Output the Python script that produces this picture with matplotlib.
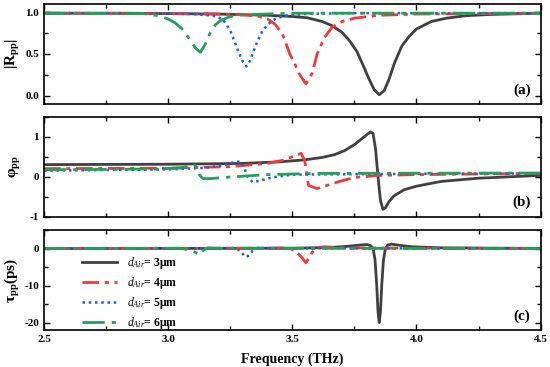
import matplotlib
matplotlib.use("Agg")
import matplotlib.pyplot as plt
from matplotlib.ticker import MultipleLocator

plt.rcParams["font.family"] = ["Liberation Serif", "DejaVu Serif"]
plt.rcParams["mathtext.fontset"] = "custom"
plt.rcParams["mathtext.rm"] = "Liberation Serif:bold"
plt.rcParams["mathtext.it"] = "Liberation Serif:italic"
plt.rcParams["mathtext.bf"] = "Liberation Serif:bold"

# series labels
labels = ["$d_{Air}$= 3μm", "$d_{Air}$= 4μm", "$d_{Air}$= 5μm", "$d_{Air}$= 6μm"]

# (a) |R_pp|
f_r3 = [2.50, 2.80, 3.00, 3.20, 3.40, 3.50, 3.56, 3.62, 3.66, 3.70, 3.73, 3.76, 3.79,
        3.81, 3.83, 3.85, 3.87, 3.89, 3.91, 3.94, 3.97, 4.00, 4.06, 4.12, 4.20, 4.30, 4.50]
r3 = [0.99, 0.99, 0.985, 0.98, 0.965, 0.95, 0.935, 0.89, 0.84, 0.76, 0.66, 0.53, 0.33,
      0.19, 0.07, 0.01, 0.06, 0.20, 0.38, 0.59, 0.71, 0.80, 0.89, 0.93, 0.96, 0.975, 0.99]
f_r4 = [2.50, 3.00, 3.20, 3.30, 3.36, 3.40, 3.43, 3.46, 3.49, 3.51, 3.53, 3.555, 3.58,
        3.60, 3.63, 3.66, 3.70, 3.75, 3.85, 4.00, 4.50]
r4 = [0.99, 0.985, 0.98, 0.97, 0.955, 0.92, 0.86, 0.74, 0.50, 0.38, 0.25, 0.14, 0.27,
      0.50, 0.70, 0.82, 0.89, 0.93, 0.965, 0.98, 0.99]
f_r5 = [2.50, 2.90, 3.10, 3.18, 3.22, 3.25, 3.28, 3.30, 3.315, 3.33, 3.355, 3.38, 3.40,
        3.43, 3.47, 3.55, 3.70, 4.50]
r5 = [0.99, 0.99, 0.98, 0.96, 0.92, 0.78, 0.55, 0.41, 0.35, 0.42, 0.62, 0.78, 0.85,
      0.92, 0.96, 0.98, 0.99, 0.99]
f_r6 = [2.50, 2.90, 2.96, 3.00, 3.03, 3.06, 3.09, 3.11, 3.13, 3.15, 3.17, 3.19, 3.21,
        3.25, 3.30, 3.50, 4.50]
r6 = [0.99, 0.985, 0.96, 0.92, 0.87, 0.79, 0.66, 0.57, 0.52, 0.62, 0.76, 0.85, 0.90,
      0.95, 0.97, 0.99, 0.99]

# (b) phase
f_p3 = [2.50, 3.00, 3.30, 3.45, 3.55, 3.62, 3.67, 3.71, 3.75, 3.78, 3.80, 3.815, 3.825,
        3.835, 3.845, 3.855, 3.865, 3.875, 3.89, 3.91, 3.95, 4.00, 4.10, 4.25, 4.50]
p3 = [0.30, 0.31, 0.33, 0.37, 0.42, 0.48, 0.55, 0.65, 0.80, 0.95, 1.05, 1.12, 1.08,
      0.70, 0.0, -0.60, -0.82, -0.78, -0.62, -0.48, -0.33, -0.24, -0.12, -0.04, 0.03]
f_p4 = [2.50, 3.00, 3.25, 3.40, 3.47, 3.52, 3.535, 3.55, 3.565, 3.60, 3.68, 3.75, 3.85,
        4.00, 4.50]
p4 = [0.20, 0.21, 0.25, 0.33, 0.42, 0.55, 0.58, 0.40, -0.22, -0.30, -0.14, -0.02, 0.03,
      0.05, 0.08]
f_p5 = [2.50, 3.00, 3.15, 3.22, 3.26, 3.29, 3.305, 3.32, 3.34, 3.37, 3.42, 3.50, 4.00, 4.50]
p5 = [0.15, 0.18, 0.22, 0.28, 0.35, 0.38, 0.25, 0.0, -0.14, -0.10, -0.02, 0.05, 0.07, 0.08]
f_p6 = [2.50, 2.95, 3.05, 3.09, 3.11, 3.125, 3.14, 3.17, 3.25, 3.40, 3.60, 4.50]
p6 = [0.17, 0.19, 0.22, 0.27, 0.28, 0.05, -0.05, -0.05, -0.01, 0.05, 0.08, 0.09]

# (c) group delay
f_t3 = [2.50, 3.00, 3.50, 3.65, 3.72, 3.78, 3.80, 3.815, 3.825, 3.833, 3.840, 3.845,
        3.850, 3.855, 3.860, 3.867, 3.875, 3.885, 3.90, 3.93, 3.98, 4.10, 4.50]
t3 = [0.0, 0.05, 0.1, 0.3, 0.6, 1.0, 1.1, 0.8, 0.0, -3.0, -10.0, -17.0,
      -20.0, -17.0, -10.0, -3.0, 0.0, 1.0, 1.2, 0.9, 0.5, 0.2, 0.05]
f_t4 = [2.50, 3.40, 3.48, 3.51, 3.53, 3.545, 3.555, 3.565, 3.58, 3.60, 3.63, 3.70, 4.50]
t4 = [0.0, 0.1, 0.2, -0.5, -1.8, -3.0, -3.8, -2.8, -1.0, 0.3, 0.5, 0.2, 0.0]
f_t5 = [2.50, 3.20, 3.27, 3.29, 3.305, 3.315, 3.325, 3.34, 3.36, 3.40, 4.50]
t5 = [0.0, 0.1, 0.15, -0.6, -1.8, -2.3, -1.8, -0.6, 0.2, 0.1, 0.0]
f_t6 = [2.50, 3.05, 3.08, 3.10, 3.12, 3.13, 3.14, 3.16, 3.20, 4.50]
t6 = [0.0, 0.1, -0.3, -0.8, -1.3, -1.6, -0.5, 0.2, 0.1, 0.0]

colors = ["#404040", "#f03a3a", "#1f5fe0", "#22a05a"]
dashes = [None, (6, 2, 1.5, 2), (1, 1.5), (8, 2.5, 1.5, 2.5)]
widths = [2.0, 2.0, 1.8, 2.0]

fig = plt.figure(figsize=(5.5, 3.67), dpi=100)
left, width = 0.08, 0.903
ax_a = fig.add_axes([left, 0.717, width, 0.272])
ax_b = fig.add_axes([left, 0.410, width, 0.272])
ax_c = fig.add_axes([left, 0.101, width, 0.272])

panels = [
    (ax_a, [(f_r3, r3), (f_r4, r4), (f_r5, r5), (f_r6, r6)]),
    (ax_b, [(f_p3, p3), (f_p4, p4), (f_p5, p5), (f_p6, p6)]),
    (ax_c, [(f_t3, t3), (f_t4, t4), (f_t5, t5), (f_t6, t6)]),
]

for ax, series in panels:
    for i, (fx, fy) in enumerate(series):
        line, = ax.plot(fx, fy, color=colors[i], lw=widths[i], label=labels[i])
        if dashes[i] is not None:
            line.set_dashes(dashes[i])
    ax.set_xlim(2.5, 4.5)
    ax.xaxis.set_major_locator(MultipleLocator(0.5))
    ax.xaxis.set_minor_locator(MultipleLocator(0.25))
    ax.tick_params(which="both", direction="in", top=True, right=True,
                   labelsize=8, width=1.0)
    ax.tick_params(which="major", length=4)
    ax.tick_params(which="minor", length=3)
    for s in ax.spines.values():
        s.set_linewidth(1.2)
    for lab in ax.get_xticklabels() + ax.get_yticklabels():
        lab.set_fontweight("bold")

ax_a.set_ylim(-0.1, 1.1)
ax_a.set_yticks([0.0, 0.5, 1.0])
ax_a.set_yticklabels(["0.0", "0.5", "1.0"], fontweight="bold")
ax_a.yaxis.set_minor_locator(MultipleLocator(0.25))
ax_a.set_ylabel("|R$_{\\mathrm{pp}}$|", fontsize=11, fontweight="bold")

ax_b.set_ylim(-1, 1.5)
ax_b.set_yticks([-1, 0, 1])
ax_b.set_yticklabels(["-1", "0", "1"], fontweight="bold")
ax_b.yaxis.set_minor_locator(MultipleLocator(0.5))
ax_b.set_ylabel("φ$_{\\mathrm{pp}}$", fontsize=11, fontweight="bold")

ax_c.set_ylim(-22, 5)
ax_c.set_yticks([-20, -10, 0])
ax_c.set_yticklabels(["-20", "-10", "0"], fontweight="bold")
ax_c.yaxis.set_minor_locator(MultipleLocator(5))
ax_c.set_ylabel("τ$_{\\mathrm{pp}}$(ps)", fontsize=11, fontweight="bold")

for ax in (ax_a, ax_b, ax_c):
    ax.yaxis.set_label_coords(-0.044, 0.5)

ax_a.tick_params(labelbottom=False)
ax_b.tick_params(labelbottom=False)
ax_c.set_xticks([2.5, 3.0, 3.5, 4.0, 4.5])
ax_c.set_xticklabels(["2.5", "3.0", "3.5", "4.0", "4.5"], fontweight="bold")
ax_c.set_xlabel("Frequency (THz)", fontsize=10, fontweight="bold", labelpad=6)

for ax, tag in zip([ax_a, ax_b, ax_c], ["(a)", "(b)", "(c)"]):
    ax.text(0.962, 0.14, tag, transform=ax.transAxes, ha="center", va="center",
            fontsize=11, fontweight="bold")

leg = ax_c.legend(loc="upper left", bbox_to_anchor=(0.055, 0.86), frameon=False,
                  fontsize=8.5, handlelength=3.0, labelspacing=0.35, handletextpad=0.8)
for t in leg.get_texts():
    t.set_fontweight("bold")

fig.savefig("out.png", dpi=100)
